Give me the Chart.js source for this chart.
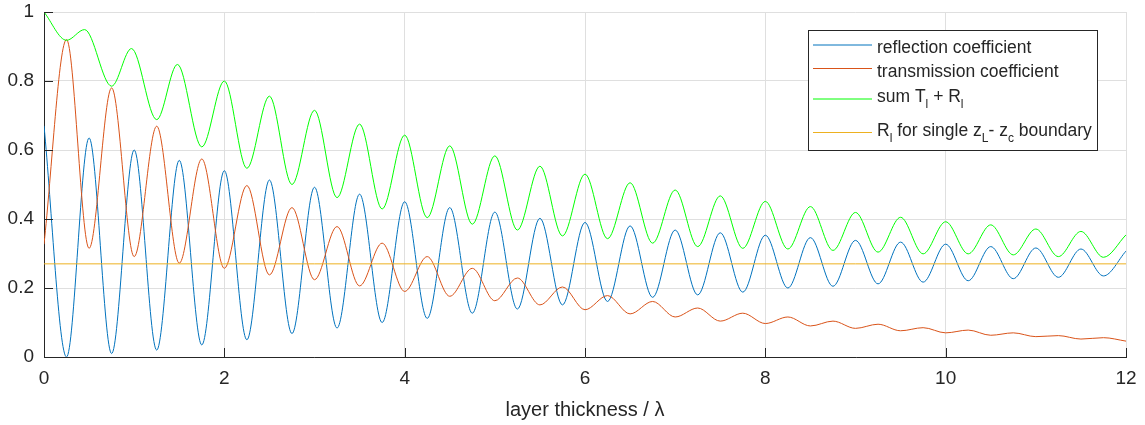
<!DOCTYPE html>
<html><head><meta charset="utf-8">
<script src="https://cdn.jsdelivr.net/npm/chart.js@4.4.1/dist/chart.umd.min.js"></script>
<style>html,body{margin:0;padding:0;background:#fff;} canvas{display:block;}</style>
</head><body>
<canvas id="c" width="1145" height="425"></canvas>
<script>
// ---- data ----
const xTicks = [0, 2, 4, 6, 8, 10, 12];
const yTicks = [0, 0.2, 0.4, 0.6, 0.8, 1];

// extrema positions of reflection / transmission curves
const xQuarter = [0, 0.25, 0.5, 0.75, 1, 1.25, 1.5, 1.75, 2, 2.25, 2.5, 2.75, 3, 3.25, 3.5, 3.75,
  4, 4.25, 4.5, 4.75, 5, 5.25, 5.5, 5.75, 6, 6.25, 6.5, 6.75, 7, 7.25, 7.5, 7.75,
  8, 8.25, 8.5, 8.75, 9, 9.25, 9.5, 9.75, 10, 10.25, 10.5, 10.75, 11, 11.25, 11.5, 11.75, 12];

const reflection = [0.67, 0.0, 0.635, 0.01, 0.60, 0.02, 0.57, 0.035, 0.54, 0.05, 0.513, 0.068,
  0.492, 0.084, 0.472, 0.10, 0.45, 0.112, 0.433, 0.127, 0.42, 0.139, 0.402, 0.151,
  0.39, 0.161, 0.38, 0.173, 0.368, 0.18, 0.36, 0.188, 0.353, 0.20, 0.346, 0.205,
  0.338, 0.212, 0.333, 0.217, 0.327, 0.221, 0.32, 0.227, 0.316, 0.231, 0.313, 0.235, 0.307];

const transmission = [0.327, 0.92, 0.315, 0.78, 0.291, 0.669, 0.272, 0.574, 0.257, 0.497, 0.238, 0.433,
  0.224, 0.378, 0.206, 0.33, 0.19, 0.291, 0.176, 0.257, 0.163, 0.229, 0.151, 0.203,
  0.137, 0.178, 0.125, 0.161, 0.116, 0.142, 0.104, 0.127, 0.097, 0.116, 0.09, 0.104,
  0.083, 0.095, 0.076, 0.085, 0.07, 0.078, 0.063, 0.07, 0.059, 0.062, 0.052, 0.056, 0.046];

const xSum = [0, 0.25, 0.45, 0.75, 0.97, 1.25, 1.48, 1.75, 2, 2.25, 2.5, 2.75, 3, 3.25, 3.5, 3.75,
  4, 4.25, 4.5, 4.75, 5, 5.25, 5.5, 5.75, 6, 6.25, 6.5, 6.75, 7, 7.25, 7.5, 7.75,
  8, 8.25, 8.5, 8.75, 9, 9.25, 9.5, 9.75, 10, 10.25, 10.5, 10.75, 11, 11.25, 11.5, 11.75, 12];

const sumTR = [1.0, 0.918, 0.949, 0.785, 0.894, 0.688, 0.848, 0.609, 0.80, 0.547, 0.756, 0.50,
  0.715, 0.462, 0.675, 0.429, 0.643, 0.404, 0.612, 0.385, 0.583, 0.368, 0.553, 0.351,
  0.53, 0.343, 0.505, 0.33, 0.484, 0.32, 0.467, 0.315, 0.451, 0.313, 0.436, 0.309,
  0.419, 0.304, 0.405, 0.299, 0.392, 0.299, 0.383, 0.296, 0.371, 0.291, 0.364, 0.289, 0.354];

const xBoundary = [0, 12];
const boundaryR = [0.27, 0.27];

const seriesNames = ['reflection coefficient', 'transmission coefficient',
  'sum T_{l} + R_{l}', 'R_{l} for single z_{L}- z_{c} boundary'];
const seriesColors = ['#0072BD', '#D95319', '#00FF00', '#EDB120'];
const xTitle = 'layer thickness / \u03BB';

// ---- chart ----
const FONT = "'Liberation Sans', Arial, Helvetica, sans-serif";
const INK = '#262626';
Chart.defaults.font.family = FONT;
Chart.defaults.color = INK;

function pts(xs, ys) { return xs.map((x, i) => ({ x: x, y: ys[i] })); }

const seriesData = [pts(xQuarter, reflection), pts(xQuarter, transmission), pts(xSum, sumTR), pts(xBoundary, boundaryR)];

const datasets = seriesData.map((d, i) => ({
  label: seriesNames[i],
  data: d,
  borderColor: seriesColors[i],
  backgroundColor: seriesColors[i],
  borderWidth: 1,
  pointRadius: 0,
  fill: false,
  cubicInterpolationMode: 'monotone',
  order: 3 - i
}));

const axisPlugin = {
  id: 'axisDecor',
  afterDraw(chart) {
    const ctx = chart.ctx;
    const xs = chart.scales.x, ys = chart.scales.y;
    const a = chart.chartArea;
    ctx.save();
    ctx.strokeStyle = INK;
    ctx.lineWidth = 1;
    // inward tick marks
    xTicks.forEach(v => {
      const px = Math.round(xs.getPixelForValue(v)) + 0.5;
      ctx.beginPath(); ctx.moveTo(px, a.bottom); ctx.lineTo(px, a.bottom - 9); ctx.stroke();
    });
    yTicks.forEach(v => {
      const py = Math.round(ys.getPixelForValue(v)) + 0.5;
      ctx.beginPath(); ctx.moveTo(a.left, py); ctx.lineTo(a.left + 9, py); ctx.stroke();
    });
    // legend box
    const bx = 808.5, by = 30.5, bw = 289, bh = 120;
    ctx.fillStyle = '#fff';
    ctx.fillRect(bx, by, bw, bh);
    ctx.strokeStyle = INK;
    ctx.strokeRect(bx, by, bw, bh);
    const rows = [{ ly: 45, base: 52.7 }, { ly: 68.5, base: 76.7 }, { ly: 99, base: 101.7 }, { ly: 132.5, base: 136 }];
    seriesNames.forEach((name, i) => {
      const r = rows[i];
      ctx.strokeStyle = seriesColors[i];
      ctx.lineWidth = 1;
      ctx.beginPath(); ctx.moveTo(813, r.ly); ctx.lineTo(872, r.ly); ctx.stroke();
      const parts = name.split(/_\{([^}]*)\}/);
      let x = 877;
      ctx.fillStyle = INK;
      ctx.textBaseline = 'alphabetic';
      ctx.textAlign = 'left';
      parts.forEach((p, k) => {
        if (!p) return;
        const sub = k % 2 === 1;
        ctx.font = (sub ? '12px ' : '17.5px ') + FONT;
        ctx.fillText(p, x, r.base + (sub ? 6 : 0));
        x += ctx.measureText(p).width;
      });
    });
    ctx.restore();
  }
};

new Chart(document.getElementById('c'), {
  type: 'line',
  data: { datasets: datasets },
  options: {
    responsive: false,
    animation: false,
    devicePixelRatio: 1,
    layout: { padding: { top: 12, right: 19, bottom: 0, left: 0 } },
    plugins: { legend: { display: false }, tooltip: { enabled: false } },
    scales: {
      x: {
        type: 'linear', min: 0, max: 12,
        afterBuildTicks: s => { s.ticks = xTicks.map(v => ({ value: v })); },
        afterFit: s => { s.height = 68; s.paddingLeft = 0; s.paddingRight = 0; },
        ticks: { autoSkip: false, maxRotation: 0, padding: 10, color: INK, font: { size: 19 }, callback: v => String(v) },
        grid: { color: '#dfdfdf', drawTicks: false, lineWidth: 1 },
        border: { display: true, color: INK, width: 1 },
        title: { display: true, text: xTitle, color: INK, font: { size: 20 }, padding: { top: 0, bottom: 3 } }
      },
      y: {
        type: 'linear', min: 0, max: 1,
        afterBuildTicks: s => { s.ticks = yTicks.map(v => ({ value: v })); },
        afterFit: s => { s.width = 44; s.paddingTop = 0; s.paddingBottom = 0; },
        ticks: { padding: 10, color: INK, font: { size: 19 }, callback: v => String(v) },
        grid: { color: '#dfdfdf', drawTicks: false, lineWidth: 1 },
        border: { display: true, color: INK, width: 1 }
      }
    }
  },
  plugins: [axisPlugin]
});
</script>
</body></html>
